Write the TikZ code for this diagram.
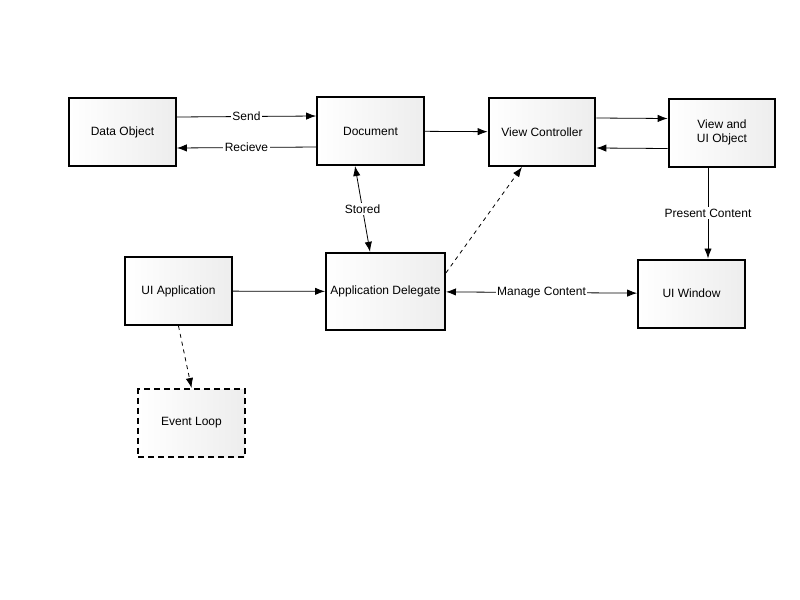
\documentclass[tikz,border=0pt]{standalone}
\usepackage{fontspec}
\setmainfont{Liberation Sans}
\usetikzlibrary{arrows.meta}
\tikzset{
  box/.style={draw,line width=1.5pt,left color=white,right color=black!7,
    minimum width=80pt,minimum height=51pt,align=center,font=\fontsize{9}{10.5}\selectfont},
  lbl/.style={fill=white,inner sep=1pt,font=\fontsize{9}{10.5}\selectfont},
}
\begin{document}
\begin{tikzpicture}[x=0.75pt,y=-0.75pt,>={Latex[length=7.5pt,width=5.5pt]},line width=0.6pt]
    \useasboundingbox (0,0) rectangle (800,600);
    \node[box] (d) at (122.5,132) {Data Object};
    \node[box] (doc) at (370.5,131) {Document};
    \node[box] (vc) at (542,132) {View Controller};
    \node[box] (v) at (722,132.5) {View and\\UI Object};
    \node[box] (u) at (178.5,291) {UI Application};
    \node[box,minimum width=88pt,minimum height=58pt] (a) at (385.5,291.5) {Application Delegate};
    \node[box] (w) at (691.5,293.5) {UI Window};
    \node[box,dash pattern=on 4.5pt off 3pt] (e) at (191.5,423) {Event Loop};
    % top row
    \draw[->]([yshift=11.25pt]d.east)--([yshift=11.25pt]doc.west)node[lbl,midway]{Send};
    \draw[->]([yshift=-12pt]doc.west)--([yshift=-12pt]d.east)node[lbl,midway]{Recieve};
    \draw[->](doc)--(vc);
    \draw[->]([yshift=10.5pt]vc.east)--([yshift=10.5pt]v.west);
    \draw[->]([yshift=-12pt]v.west)--([yshift=-12pt]vc.east);
    % down
    \draw[->]([xshift=-10.5pt]v.south)--([xshift=-10.5pt]v.south |- w.north)node[lbl,midway]{Present Content};
    \draw[<->]([xshift=-11.6pt]doc.south)--([xshift=-11.6pt]a.north)node[lbl,midway]{Stored};
    \draw[->,dashed]([yshift=14pt]a.east)--([xshift=-15pt]vc.south);
    % bottom row
    \draw[->](u)--(a);
    \draw[<->](a)--(w)node[lbl,midway]{Manage Content};
    \draw[->,dashed](u.south)--(e.north);
\end{tikzpicture}
\end{document}
